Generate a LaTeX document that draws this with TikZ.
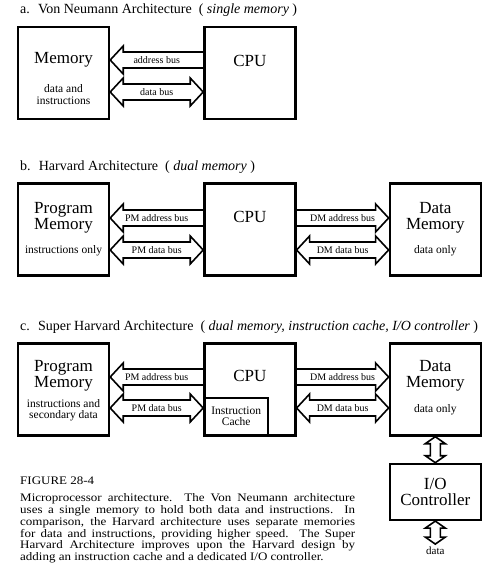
\documentclass[tikz,border=0pt]{standalone}
\usepackage{fontspec}
\setmainfont{Liberation Serif}
\newfontfamily\capfont[FakeStretch=1.13]{Liberation Serif}
\usepackage{tikz}
\usetikzlibrary{calc,positioning}

% hollow bus arrows: shaft half width, head half width, head length
\def\bw{8pt}
\def\bh{14pt}
\def\bl{13pt}
\newcommand{\busone}[4]{%
  \draw[busline] ($(#1)!\bw!90:(#2)$) -- ($(#2)!\bl!(#1)!\bw!-90:(#1)$)
    -- ($(#2)!\bl!(#1)!\bh!-90:(#1)$) -- (#2)
    -- ($(#2)!\bl!(#1)!\bh!90:(#1)$) -- ($(#2)!\bl!(#1)!\bw!90:(#1)$)
    -- ($(#1)!\bw!-90:(#2)$);
  \node[buslabel] (#3) at ($(#1)!0.5!(#2)$) {#4};}
\newcommand{\busboth}[2]{%
  \draw[busline] (#1) -- ($(#1)!\bl!(#2)!\bh!90:(#2)$) -- ($(#1)!\bl!(#2)!\bw!90:(#2)$)
    -- ($(#2)!\bl!(#1)!\bw!-90:(#1)$) -- ($(#2)!\bl!(#1)!\bh!-90:(#1)$) -- (#2)
    -- ($(#2)!\bl!(#1)!\bh!90:(#1)$) -- ($(#2)!\bl!(#1)!\bw!90:(#1)$)
    -- ($(#1)!\bl!(#2)!\bw!-90:(#2)$) -- ($(#1)!\bl!(#2)!\bh!-90:(#2)$) -- cycle;}

\tikzset{
  unit/.style={draw, line width=2.4pt, minimum width=91pt, minimum height=92pt, inner sep=0pt},
  busline/.style={line width=1.6pt, line join=miter},
  buslabel/.style={font=\fontsize{10}{10}\selectfont, inner sep=0pt},
  bigtext/.style={align=center, inner sep=0pt, font=\fontsize{17}{16}\selectfont},
  smalltext/.style={align=center, inner sep=0pt, font=\fontsize{11.5}{11.5}\selectfont},
  title/.style={anchor=west, inner sep=0pt, font=\fontsize{14}{15}\selectfont},
}

\begin{document}
\begin{tikzpicture}[x=1pt,y=-1pt]
\useasboundingbox (0,0) rectangle (496,577);

% bus levels
\coordinate (lv-a1) at (0,60);
\coordinate (lv-a2) at (0,92);
\coordinate (lv-b1) at (0,218);
\coordinate (lv-b2) at (0,250);
\coordinate (lv-c1) at (0,377);
\coordinate (lv-c2) at (0,408);

% a. Von Neumann
\node[title] (title-a) at (20,10) {a.~ Von Neumann Architecture~ ( \textit{single memory} )};
\node[unit] (mem-a) at (63.5,73) {};
\node[unit, right=93pt of mem-a] (cpu-a) {};
\node[bigtext] (memtxt-a) at ($(mem-a.north)+(0,34)$) {Memory};
\node[smalltext] (memnote-a) at ($(mem-a.north)+(0,69)$) {data and\\instructions};
\node[bigtext] (cputxt-a) at ($(cpu-a.north)+(0,35)$) {CPU};
\busone{cpu-a.west |- lv-a1}{mem-a.east |- lv-a1}{addr-a}{address bus}
\busboth{cpu-a.west |- lv-a2}{mem-a.east |- lv-a2}
\node[buslabel] (data-a) at ($(cpu-a.west |- lv-a2)!0.5!(mem-a.east |- lv-a2)$) {data bus};

% b. Harvard
\node[title] (title-b) at (20,167) {b.~ Harvard Architecture~ ( \textit{dual memory} )};
\node[unit] (pm-b) at (63.5,229.5) {};
\node[unit, right=93pt of pm-b] (cpu-b) {};
\node[unit, right=92pt of cpu-b] (dm-b) {};
\node[bigtext] (pmtxt-b) at ($(pm-b.north)+(0,35)$) {Program\\Memory};
\node[smalltext] (pmnote-b) at ($(pm-b.north)+(0,68)$) {instructions only};
\node[bigtext] (cputxt-b) at ($(cpu-b.north)+(0,35)$) {CPU};
\node[bigtext] (dmtxt-b) at ($(dm-b.north)+(0,35)$) {Data\\Memory};
\node[smalltext] (dmnote-b) at ($(dm-b.north)+(0,68)$) {data only};
\busone{cpu-b.west |- lv-b1}{pm-b.east |- lv-b1}{pmaddr-b}{PM address bus}
\busboth{cpu-b.west |- lv-b2}{pm-b.east |- lv-b2}
\node[buslabel] (pmdata-b) at ($(cpu-b.west |- lv-b2)!0.5!(pm-b.east |- lv-b2)$) {PM data bus};
\busone{cpu-b.east |- lv-b1}{dm-b.west |- lv-b1}{dmaddr-b}{DM address bus}
\busboth{cpu-b.east |- lv-b2}{dm-b.west |- lv-b2}
\node[buslabel] (dmdata-b) at ($(cpu-b.east |- lv-b2)!0.5!(dm-b.west |- lv-b2)$) {DM data bus};

% c. Super Harvard
\node[title] (title-c) at (20,327) {c.~ Super Harvard Architecture~ ( \textit{dual memory, instruction cache, I/O controller} )};
\node[unit] (pm-c) at (63.5,389.5) {};
\node[unit, right=93pt of pm-c] (cpu-c) {};
\node[unit, right=92pt of cpu-c] (dm-c) {};
\node[unit, minimum width=63.6pt, minimum height=37.6pt, anchor=south west, align=center,
  font=\fontsize{11.5}{11}\selectfont] (cache-c) at (cpu-c.south west) {Instruction\\Cache};
\node[unit, minimum height=56pt, below=26pt of dm-c, align=center,
  font=\fontsize{17}{15.5}\selectfont] (io-c) {I/O\\Controller};
\node[bigtext] (pmtxt-c) at ($(pm-c.north)+(0,33)$) {Program\\Memory};
\node[smalltext] (pmnote-c) at ($(pm-c.north)+(0,68)$) {instructions and\\secondary data};
\node[bigtext] (cputxt-c) at ($(cpu-c.north)+(0,34)$) {CPU};
\node[bigtext] (dmtxt-c) at ($(dm-c.north)+(0,33)$) {Data\\Memory};
\node[smalltext] (dmnote-c) at ($(dm-c.north)+(0,67)$) {data only};
\busone{cpu-c.west |- lv-c1}{pm-c.east |- lv-c1}{pmaddr-c}{PM address bus}
\busboth{cpu-c.west |- lv-c2}{pm-c.east |- lv-c2}
\node[buslabel] (pmdata-c) at ($(cpu-c.west |- lv-c2)!0.5!(pm-c.east |- lv-c2)$) {PM data bus};
\busone{cpu-c.east |- lv-c1}{dm-c.west |- lv-c1}{dmaddr-c}{DM address bus}
\busboth{cpu-c.east |- lv-c2}{dm-c.west |- lv-c2}
\node[buslabel] (dmdata-c) at ($(cpu-c.east |- lv-c2)!0.5!(dm-c.west |- lv-c2)$) {DM data bus};
\node[font=\fontsize{11}{11}\selectfont, inner sep=2.5pt, below=23pt of io-c] (data-c) {data};
\def\bw{5pt}\def\bh{10pt}\def\bl{7pt}
\busboth{dm-c.south}{io-c.north}
\busboth{io-c.south}{data-c.north}

% caption
\node[anchor=north west, inner sep=0pt, align=left, font=\capfont\fontsize{11.5}{11.8}\selectfont] (caption) at (20,477)
  {FIGURE 28-4\\[5pt]
   \makebox[335pt][s]{Microprocessor architecture.\ \ The Von Neumann architecture}\\
   \makebox[335pt][s]{uses a single memory to hold both data and instructions.\ \ In}\\
   \makebox[335pt][s]{comparison, the Harvard architecture uses separate memories}\\
   \makebox[335pt][s]{for data and instructions, providing higher speed.\ \ The Super}\\
   \makebox[335pt][s]{Harvard Architecture improves upon the Harvard design by}\\
   adding an instruction cache and a dedicated I/O controller.};
\end{tikzpicture}
\end{document}
